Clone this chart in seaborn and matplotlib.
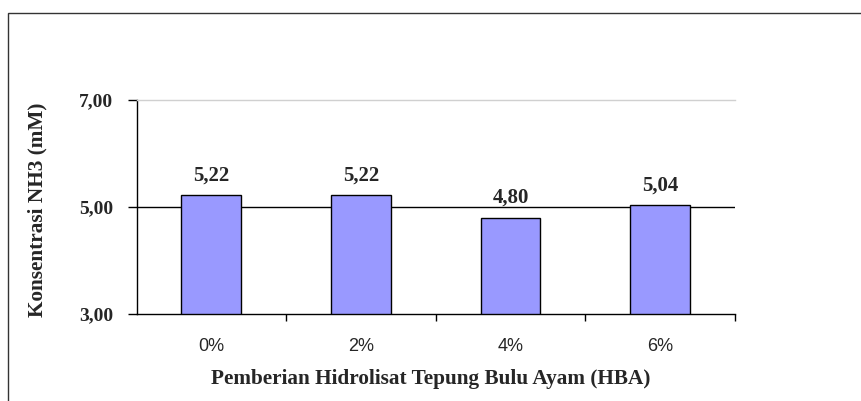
import matplotlib
matplotlib.use("Agg")
import matplotlib.pyplot as plt
import seaborn as sns
import pandas as pd
from matplotlib.patches import Rectangle
from matplotlib.ticker import FixedLocator

# data
kategori = ["0%", "2%", "4%", "6%"]
konsentrasi = [5.22, 5.22, 4.80, 5.04]
yticks = [3, 5, 7]

df = pd.DataFrame({"hba": kategori, "nh3": konsentrasi})

sns.set_style("white")
plt.rcParams["font.family"] = ["Liberation Serif", "DejaVu Serif"]

fig = plt.figure(figsize=(8.62, 4.01), dpi=100)
ax = fig.add_axes([136.5 / 862, 1 - 314 / 401, (735 - 136.5) / 862, 214 / 401])

sns.barplot(data=df, x="hba", y="nh3", ax=ax, color="#9999FF", saturation=1,
            width=0.4, edgecolor="black", linewidth=1)

ax.set_ylim(3, 7)
ax.set_xlim(-0.5, 3.5)
ax.set_yticks(yticks)
ax.set_yticklabels([f"{v:.2f}".replace(".", ",") for v in yticks],
                   fontsize=14, fontweight="bold")
ax.axhline(5, color="black", linewidth=1, zorder=0)

# category labels in Arial-like font, ticks between categories
ax.set_xticks(range(len(kategori)))
ax.set_xticklabels(kategori, fontsize=13, family="Liberation Sans")
ax.tick_params(axis="x", which="major", length=0, pad=17)
ax.xaxis.set_minor_locator(FixedLocator([0.5, 1.5, 2.5, 3.5]))
ax.tick_params(axis="x", which="minor", length=5, width=1, color="black",
               direction="out", bottom=True)
ax.tick_params(axis="y", length=6.5, width=1, color="black", direction="out",
               left=True, pad=10.5)

for s in ["left", "bottom"]:
    ax.spines[s].set_color("black")
    ax.spines[s].set_linewidth(1)
ax.spines["top"].set_color("#d0d0d0")
ax.spines["top"].set_linewidth(1)
ax.spines["right"].set_visible(False)

for i, v in enumerate(konsentrasi):
    ax.annotate(f"{v:.2f}".replace(".", ","), (i, v), xytext=(0, 7),
                textcoords="offset points", ha="center", va="bottom",
                fontsize=15, fontweight="bold")

ax.set_xlabel("Pemberian Hidrolisat Tepung Bulu Ayam (HBA)",
              fontsize=15.3, fontweight="bold")
ax.set_ylabel("Konsentrasi NH3 (mM)", fontsize=15.3, fontweight="bold")
ax.xaxis.set_label_coords(0.492, -0.255)
ax.yaxis.set_label_coords(-0.1495, 0.487)

# outer chart border (cut off on the right and bottom)
fig.patches.append(Rectangle((8 / 862, -0.1), 1.2, 1 - 13 / 401 + 0.1,
                             transform=fig.transFigure, fill=False,
                             edgecolor="#333333", linewidth=1))

fig.savefig("out.png", dpi=100)
